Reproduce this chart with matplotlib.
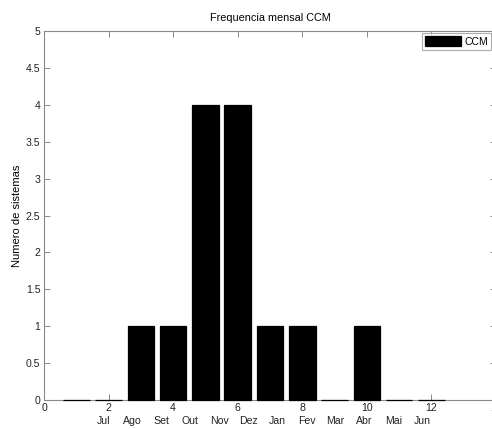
import matplotlib
matplotlib.use("Agg")
import matplotlib.pyplot as plt
import numpy as np

plt.rcParams['font.family'] = ['Liberation Sans', 'DejaVu Sans']

positions = [1, 2, 3, 4, 5, 6, 7, 8, 9, 10, 11, 12]
counts = [0, 0, 1, 1, 4, 4, 1, 1, 0, 1, 0, 0]
months = ["Jul", "Ago", "Set", "Out", "Nov", "Dez", "Jan", "Fev", "Mar", "Abr", "Mai", "Jun"]
xticks = [0, 2, 4, 6, 8, 10, 12, 14]
yticks = [0, 0.5, 1, 1.5, 2, 2.5, 3, 3.5, 4, 4.5, 5]
ytick_labels = ["0", "0.5", "1", "1.5", "2", "2.5", "3", "3.5", "4", "4.5", "5"]

fig = plt.figure(figsize=(4.92, 4.29), dpi=100)
ax = fig.add_axes([44/492, 29/429, 452/492, 369/429])

ax.bar(positions, counts, width=0.82, color='black', edgecolor='black', linewidth=0.9,
       label='CCM', zorder=3, clip_on=False)

ax.set_xlim(0, 14)
ax.set_ylim(0, 5)
ax.set_xticks(xticks)
ax.set_yticks(yticks)
ax.set_yticklabels(ytick_labels)
ax.tick_params(direction='in', length=4, width=0.6, color='#777777', labelsize=7.6,
               top=True, right=True, pad=2.5, labelcolor='#222222')
for s in ax.spines.values():
    s.set_color('#888888')
    s.set_linewidth(0.8)

ax.set_title("Frequencia mensal CCM", fontsize=7.8, pad=7)
ax.set_ylabel("Numero de sistemas", fontsize=8, labelpad=2.5)

# month labels row below the tick labels
trans = matplotlib.transforms.blended_transform_factory(ax.transData, ax.transAxes)
for i, m in enumerate(months):
    ax.text(1.83 + 0.9 * i, -0.058, m, transform=trans, ha='center', va='center',
            fontsize=7.6, color='#222222')

leg = ax.legend(loc='upper right', bbox_to_anchor=(491/492, 396/429),
                bbox_transform=fig.transFigure, fontsize=7.6, frameon=True,
                fancybox=False, handlelength=3.4, handleheight=1.1,
                borderpad=0.3, handletextpad=0.3, borderaxespad=0)
leg.get_frame().set_edgecolor('#999999')
leg.get_frame().set_linewidth(0.8)

fig.savefig("out.png", dpi=100)
